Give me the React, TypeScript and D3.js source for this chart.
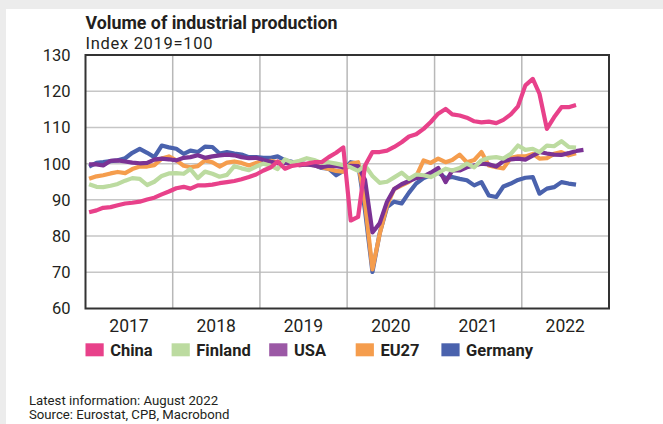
import React from "react";
import * as d3 from "d3";

const W = 663;
const H = 424;

const startMonth = "2017-01";
const yearLabels = ["2017", "2018", "2019", "2020", "2021", "2022"];
const yTicks = [60, 70, 80, 90, 100, 110, 120, 130];

const china = [
  86.6, 87.1, 87.8, 88.0, 88.5, 89.0, 89.2, 89.5, 90.1, 90.6, 91.5, 92.3,
  93.2, 93.6, 93.1, 94.0, 94.0, 94.2, 94.6, 94.9, 95.2, 95.7, 96.3, 97.0,
  98.1, 99.0, 100.6, 98.6, 99.4, 99.7, 100.0, 100.4, 100.4, 101.8, 103.0, 104.5,
  84.3, 85.3, 99.5, 103.2, 103.2, 103.6, 104.6, 105.9, 107.5, 108.1, 109.6, 111.5,
  113.8, 115.1, 113.6, 113.3, 112.7, 111.7, 111.4, 111.6, 111.2, 112.1, 113.6, 115.8,
  121.6, 123.4, 119.3, 109.6, 112.8, 115.6, 115.6, 116.2,
];

const finland = [
  94.3, 93.6, 93.5, 93.9, 94.4, 95.3, 96.0, 95.8, 94.1, 95.0, 96.6, 97.3,
  97.4, 97.2, 98.5, 96.0, 97.8, 97.2, 96.4, 96.9, 99.3, 98.7, 98.2, 99.2,
  100.0, 99.4, 98.5, 101.2, 100.3, 100.8, 101.5, 101.0, 100.2, 100.4, 100.0, 99.6,
  99.0, 98.0, 99.5, 96.6, 94.7, 95.0, 96.2, 97.5, 95.8, 97.0, 96.8, 96.3,
  97.4, 98.6, 98.1, 98.8, 100.0, 99.0, 100.9, 101.6, 101.8, 101.4, 102.7, 105.0,
  103.8, 104.1, 103.2, 105.0, 104.8, 106.2, 104.6, 104.4,
];

const usa = [
  99.8, 99.8, 99.5, 100.8, 100.9, 100.6, 100.3, 100.1, 100.2, 101.1, 101.4, 101.2,
  100.9, 101.6, 101.8, 102.3, 101.6, 102.0, 102.3, 102.5, 102.3, 101.8, 101.5, 101.6,
  101.0, 100.5, 100.1, 100.2, 99.9, 99.6, 99.8, 99.5, 99.0, 99.4, 99.3, 99.0,
  99.4, 99.3, 95.5, 81.0, 83.5, 89.5, 93.0, 94.3, 95.2, 96.0, 96.5, 97.5,
  98.8, 94.9, 98.1, 98.1, 99.0, 99.5, 100.0, 99.8, 99.2, 100.7, 101.2, 101.4,
  101.1, 102.2, 103.2, 102.8, 102.5, 102.4, 102.9, 103.5, 103.8,
];

const eu27 = [
  95.8, 96.5, 96.8, 97.3, 97.7, 97.4, 98.5, 99.2, 99.2, 99.6, 101.4, 102.0,
  100.9, 99.4, 99.0, 99.3, 100.9, 100.4, 99.2, 100.3, 100.6, 100.2, 99.5, 100.2,
  100.6, 100.8, 100.4, 100.3, 100.0, 99.6, 99.8, 99.6, 99.0, 98.5, 98.0, 97.8,
  100.0, 100.4, 89.0, 70.8, 80.5, 88.5, 93.0, 94.0, 95.0, 96.5, 100.9, 100.2,
  101.4, 100.4, 101.0, 102.5, 100.4, 101.0, 103.2, 99.5, 99.0, 98.7, 101.6, 102.0,
  102.0, 102.7, 101.4, 101.5, 102.7, 103.2, 102.3, 102.9,
];

const germany = [
  99.2, 100.2, 100.4, 100.7, 100.9, 101.5, 103.0, 104.1, 103.0, 101.8, 105.0, 104.5,
  104.1, 102.7, 103.6, 103.2, 104.7, 104.6, 102.8, 103.2, 102.8, 102.5, 101.8, 101.8,
  101.6, 101.6, 102.0, 100.9, 100.5, 100.2, 99.8, 99.6, 98.8, 98.6, 96.8, 98.0,
  100.4, 100.0, 87.0, 70.1, 80.7, 88.0, 89.5, 89.0, 92.0, 94.5, 96.0, 96.8,
  97.6, 96.0, 96.3, 95.8, 95.4, 94.0, 94.9, 91.2, 90.8, 93.7, 94.5, 95.5,
  96.1, 96.3, 91.7, 93.1, 93.5, 94.9, 94.5, 94.2,
];

const seriesNames = ["China", "Finland", "USA", "EU27", "Germany"];
const seriesData = [china, finland, usa, eu27, germany];
const lineColors = ["#e8418a", "#bcdba0", "#7b3294", "#f59d4d", "#4a62ad"];
const swatchColors = ["#e8418a", "#bcdba0", "#9b58a5", "#f59d4d", "#4a62ad"];

const FONT = "Roboto, 'Noto Sans', sans-serif";

export default function App() {
  const left = 85.5;
  const right = 609;
  const top = 55;
  const bottom = 308.5;

  const parse = d3.timeParse("%Y-%m");
  const start = parse(startMonth) as Date;
  const x = d3
    .scaleTime()
    .domain([new Date(2017, 0, 1), new Date(2023, 0, 1)])
    .range([left, right]);
  const y = d3.scaleLinear().domain([60, 130]).range([bottom, top]);

  const dateOf = (i: number) => {
    const m = d3.timeMonth.offset(start, i);
    return new Date(m.getFullYear(), m.getMonth(), 16);
  };

  const line = d3
    .line<number>()
    .x((_, i) => x(dateOf(i)))
    .y((v) => y(v));

  const yearStarts = yearLabels.map((yl) => new Date(+yl, 0, 1));
  const yearMids = yearLabels.map((yl) => new Date(+yl, 6, 2));

  const legendX = [85.5, 171.6, 269.2, 355.7, 441.4];

  const drawOrder = [4, 3, 2, 1, 0];

  return (
    <svg
      width={W}
      height={H}
      style={{ position: "absolute", left: 0, top: 0, display: "block" }}
      fontFamily={FONT}
    >
      <rect x={0} y={0} width={W} height={H} fill="#ececec" />
      <rect x={6} y={9} width={W - 6} height={H - 9} fill="#ffffff" />

      <text x={left} y={28.8} fontSize={17.8} fontWeight={700} fill="#231f20">
        Volume of industrial production
      </text>
      <text x={left} y={49} fontSize={16.5} letterSpacing={0.7} fill="#231f20">
        Index 2019=100
      </text>

      {/* horizontal grid */}
      {yTicks.slice(1, -1).map((t) => (
        <line
          key={"h" + t}
          x1={left}
          x2={right}
          y1={y(t)}
          y2={y(t)}
          stroke="#c6c6c6"
          strokeWidth={1.5}
        />
      ))}
      {/* vertical grid */}
      {yearStarts.slice(1).map((d, i) => (
        <line
          key={"v" + i}
          x1={x(d)}
          x2={x(d)}
          y1={top}
          y2={bottom}
          stroke="#b8b8b8"
          strokeWidth={1.5}
        />
      ))}

      {/* y tick labels */}
      {yTicks.map((t) => (
        <text
          key={"yt" + t}
          x={70.5}
          y={y(t)}
          dy="0.36em"
          textAnchor="end"
          fontSize={16.5}
          fill="#231f20"
        >
          {t}
        </text>
      ))}

      {/* x labels */}
      {yearMids.map((d, i) => (
        <text
          key={"xl" + i}
          x={x(d)}
          y={331.5}
          textAnchor="middle"
          fontSize={17.5}
          fill="#231f20"
        >
          {yearLabels[i]}
        </text>
      ))}

      {/* lines */}
      <g fill="none" strokeWidth={4.2} strokeLinejoin="round" strokeLinecap="butt">
        {drawOrder.map((k) => (
          <path key={seriesNames[k]} d={line(seriesData[k]) || ""} stroke={lineColors[k]} />
        ))}
      </g>

      {/* frame */}
      <rect
        x={left}
        y={top}
        width={right - left}
        height={bottom - top}
        fill="none"
        stroke="#333333"
        strokeWidth={2}
      />

      {/* legend */}
      {seriesNames.map((n, i) => (
        <g key={"lg" + n}>
          <rect x={legendX[i]} y={343.3} width={18.2} height={13} fill={swatchColors[i]} />
          <text
            x={legendX[i] + 24.7}
            y={356}
            fontSize={16.5}
            fontWeight={700}
            fill="#231f20"
          >
            {n}
          </text>
        </g>
      ))}

      <text x={29} y={404.5} fontSize={13.2} fill="#231f20">
        Latest information: August 2022
      </text>
      <text x={29} y={419.3} fontSize={13.2} fill="#231f20">
        Source: Eurostat, CPB, Macrobond
      </text>
    </svg>
  );
}
